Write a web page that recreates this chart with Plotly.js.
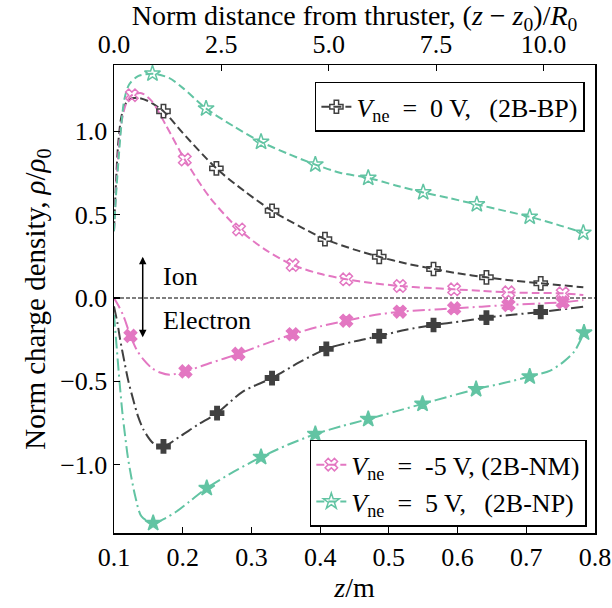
<!DOCTYPE html>
<html>
<head>
<meta charset="utf-8">
<script src="https://cdn.plot.ly/plotly-3.0.1.min.js"></script>
<style>html,body{margin:0;padding:0;background:#fff;}</style>
</head>
<body>
<div id="chart" style="width:612px;height:608px;"></div>
<script>
// ---------- data (z in m, rho/rho0) ----------
// Ion curves (dashed)
const zIonBP   = [0.100,0.103,0.106,0.110,0.115,0.122,0.135,0.150,0.172,0.200,0.249,0.290,0.330,0.370,0.407,0.450,0.486,0.525,0.565,0.600,0.642,0.680,0.721,0.783];
const rhoIonBP = [0.41,0.70,0.92,1.07,1.15,1.19,1.20,1.18,1.12,0.99,0.777,0.64,0.523,0.43,0.353,0.29,0.247,0.207,0.174,0.148,0.124,0.105,0.088,0.064];
const mkIonBP  = [0.172,0.249,0.330,0.407,0.486,0.565,0.642,0.721];

const zIonNM   = [0.100,0.104,0.108,0.113,0.119,0.126,0.140,0.155,0.175,0.203,0.240,0.282,0.320,0.360,0.400,0.438,0.475,0.516,0.555,0.595,0.635,0.674,0.715,0.753,0.783];
const rhoIonNM = [0.40,0.72,0.95,1.10,1.18,1.216,1.228,1.18,1.04,0.83,0.60,0.411,0.29,0.198,0.145,0.112,0.09,0.072,0.061,0.052,0.043,0.034,0.030,0.028,0.018];
const mkIonNM  = [0.126,0.203,0.282,0.360,0.438,0.516,0.595,0.674,0.753];

const zIonNP   = [0.100,0.103,0.107,0.111,0.115,0.122,0.135,0.156,0.180,0.200,0.234,0.274,0.314,0.353,0.393,0.430,0.470,0.510,0.550,0.590,0.628,0.667,0.705,0.745,0.783];
const rhoIonNP = [0.40,0.62,0.85,1.05,1.19,1.28,1.33,1.345,1.32,1.26,1.136,1.03,0.936,0.865,0.80,0.75,0.72,0.675,0.633,0.597,0.561,0.524,0.487,0.44,0.391];
const mkIonNP  = [0.156,0.234,0.314,0.393,0.470,0.550,0.628,0.705,0.783];

// Electron curves (dash-dot)
const zElBP   = [0.100,0.105,0.109,0.115,0.121,0.128,0.135,0.143,0.157,0.172,0.196,0.222,0.250,0.288,0.330,0.370,0.409,0.450,0.486,0.525,0.565,0.605,0.642,0.680,0.721,0.783];
const rhoElBP = [-0.05,-0.15,-0.25,-0.38,-0.50,-0.61,-0.71,-0.79,-0.87,-0.89,-0.83,-0.76,-0.69,-0.56,-0.48,-0.385,-0.305,-0.26,-0.228,-0.19,-0.162,-0.14,-0.118,-0.10,-0.084,-0.052];
const mkElBP  = [0.172,0.250,0.330,0.409,0.486,0.565,0.642,0.721];

const zElNM   = [0.100,0.107,0.114,0.124,0.133,0.143,0.155,0.167,0.181,0.204,0.240,0.281,0.320,0.360,0.400,0.438,0.475,0.516,0.555,0.595,0.635,0.674,0.715,0.753,0.783];
const rhoElNM = [0.0,-0.05,-0.11,-0.227,-0.31,-0.37,-0.42,-0.447,-0.46,-0.44,-0.39,-0.335,-0.275,-0.217,-0.17,-0.136,-0.105,-0.082,-0.072,-0.062,-0.052,-0.042,-0.034,-0.026,-0.012];
const mkElNM  = [0.124,0.204,0.281,0.360,0.438,0.516,0.595,0.674,0.753];

const zElNP   = [0.100,0.104,0.108,0.112,0.116,0.120,0.125,0.131,0.140,0.157,0.175,0.191,0.210,0.235,0.275,0.314,0.353,0.393,0.430,0.470,0.510,0.549,0.588,0.627,0.667,0.705,0.735,0.755,0.770,0.784];
const rhoElNP = [-0.10,-0.30,-0.50,-0.68,-0.82,-0.95,-1.07,-1.19,-1.31,-1.35,-1.32,-1.28,-1.22,-1.14,-1.04,-0.954,-0.88,-0.816,-0.77,-0.726,-0.68,-0.635,-0.59,-0.547,-0.51,-0.471,-0.435,-0.38,-0.32,-0.208];
const mkElNP  = [0.157,0.235,0.314,0.393,0.470,0.549,0.627,0.705,0.784];

const SP = '\u2002';
const legendLabels = {
  BP: '<i>V</i><sub>ne</sub>' + SP + '=' + SP + '0 V,' + SP + '\u2009(2B-BP)',
  NM: '<i>V</i><sub>ne</sub>' + SP + '=' + SP + '-5 V, (2B-NM)',
  NP: '<i>V</i><sub>ne</sub>' + SP + '=' + SP + '5 V,' + SP + '\u2009(2B-NP)'
};
const yTicks = [-1.0,-0.5,0.0,0.5,1.0];
const xTicks = [0.1,0.2,0.3,0.4,0.5,0.6,0.7,0.8];
const topTicks = [0.0,2.5,5.0,7.5,10.0];

// ---------- styles ----------
const FONT = '"Liberation Serif", "Times New Roman", serif';
const C = {BP:'#404040', NM:'#e377c2', NP:'#62c4a3'};
const DASH = '8px,4px';
const DASHDOT = '12px,4px,2px,4px';

function pick(z, r, mk){
  const xs=[], ys=[];
  z.forEach((v,i)=>{ if(mk.some(m=>Math.abs(m-v)<1e-9)){ xs.push(v); ys.push(r[i]); } });
  return {xs, ys};
}
function curve(z, r, color, dash){
  return {x:z, y:r, mode:'lines', type:'scatter', showlegend:false, hoverinfo:'skip',
          line:{color:color, width:2, dash:dash, shape:'spline', smoothing:0.8}};
}
function marks(z, r, mk, color, symbol, size){
  const p = pick(z, r, mk);
  return {x:p.xs, y:p.ys, mode:'markers', type:'scatter', showlegend:false, hoverinfo:'skip',
          marker:{color:color, symbol:symbol, size:size, line:{color:color, width:1.5}}};
}
function legendEntry(name, color, symbol, size, leg){
  return {x:[null], y:[null], mode:'lines+markers', type:'scatter', name:name, legend:leg,
          line:{color:color, width:2, dash:DASH},
          marker:{color:color, symbol:symbol, size:size, line:{color:color, width:1.5}}};
}

const traces = [
  curve(zIonBP, rhoIonBP, C.BP, DASH),
  curve(zIonNM, rhoIonNM, C.NM, DASH),
  curve(zIonNP, rhoIonNP, C.NP, DASH),
  curve(zElBP, rhoElBP, C.BP, DASHDOT),
  curve(zElNM, rhoElNM, C.NM, DASHDOT),
  curve(zElNP, rhoElNP, C.NP, DASHDOT),
  marks(zIonBP, rhoIonBP, mkIonBP, C.BP, 'cross-open', 11),
  marks(zIonNM, rhoIonNM, mkIonNM, C.NM, 'x-open', 11),
  marks(zIonNP, rhoIonNP, mkIonNP, C.NP, 'star-open', 12),
  marks(zElBP, rhoElBP, mkElBP, C.BP, 'cross', 11),
  marks(zElNM, rhoElNM, mkElNM, C.NM, 'x', 11),
  marks(zElNP, rhoElNP, mkElNP, C.NP, 'star', 12),
  legendEntry(legendLabels.BP, C.BP, 'cross-open', 11, 'legend'),
  legendEntry(legendLabels.NM, C.NM, 'x-open', 11, 'legend2'),
  legendEntry(legendLabels.NP, C.NP, 'star-open', 12, 'legend2'),
  {x:[null], y:[null], xaxis:'x2', mode:'lines', showlegend:false, hoverinfo:'skip'}
];

const axisCommon = {
  showgrid:false, zeroline:false, showline:true, linecolor:'#000', linewidth:1.5,
  ticks:'inside', ticklen:6, tickwidth:1.2, tickcolor:'#000',
  tickfont:{family:FONT, size:26, color:'#000'}
};

const layout = {
  width:612, height:608,
  margin:{l:114, r:17, t:65, b:75, pad:0},
  paper_bgcolor:'#fff', plot_bgcolor:'#fff',
  font:{family:FONT, size:26, color:'#000'},
  xaxis:Object.assign({}, axisCommon, {
    range:[0.1,0.8], tickvals:xTicks, tickformat:'.1f', mirror:false,
    title:{text:'<i>z</i>/m', font:{family:FONT, size:28}, standoff:4}
  }),
  xaxis2:Object.assign({}, axisCommon, {
    overlaying:'x', side:'top', anchor:'y', range:[0,11.2], tickvals:topTicks, tickformat:'.1f',
    title:{text:'Norm distance from thruster, (<i>z</i> \u2212 <i>z</i><sub>0</sub>)/<i>R</i><sub>0</sub>', font:{family:FONT, size:28}, standoff:2}
  }),
  yaxis:Object.assign({}, axisCommon, {
    range:[-1.409,1.397], tickvals:yTicks, tickformat:'.1f', mirror:true,
    title:{text:'Norm charge density, <i>\u03c1</i>/<i>\u03c1</i><sub>0</sub>', font:{family:FONT, size:29}, standoff:6}
  }),
  legend:{x:0.979, y:0.964, xanchor:'right', yanchor:'top', bgcolor:'#fff',
          bordercolor:'#000', borderwidth:1.5, font:{family:FONT, size:26, color:'#000'}},
  legend2:{x:0.983, y:0.0134, xanchor:'right', yanchor:'bottom', bgcolor:'#fff',
          bordercolor:'#000', borderwidth:1.5, font:{family:FONT, size:26, color:'#000'}},
  shapes:[{type:'line', xref:'paper', x0:0, x1:1, yref:'y', y0:0, y1:0,
           line:{color:'#000', width:1.2, dash:'4px,2px'}, layer:'below'}],
  annotations:[
    {x:0.1418, y:-0.235, ax:0.1418, ay:0.257, xref:'x', yref:'y', axref:'x', ayref:'y',
     text:'', showarrow:true, arrowhead:2, arrowside:'end+start', arrowsize:1, arrowwidth:1.5, arrowcolor:'#000'},
    {x:0.169, y:0.128, xref:'x', yref:'y', text:'Ion', showarrow:false, xanchor:'left', yanchor:'middle',
     font:{family:FONT, size:26, color:'#000'}},
    {x:0.169, y:-0.132, xref:'x', yref:'y', text:'Electron', showarrow:false, xanchor:'left', yanchor:'middle',
     font:{family:FONT, size:26, color:'#000'}}
  ]
};

Plotly.newPlot('chart', traces, layout, {staticPlot:true, displayModeBar:false});
</script>
</body>
</html>
